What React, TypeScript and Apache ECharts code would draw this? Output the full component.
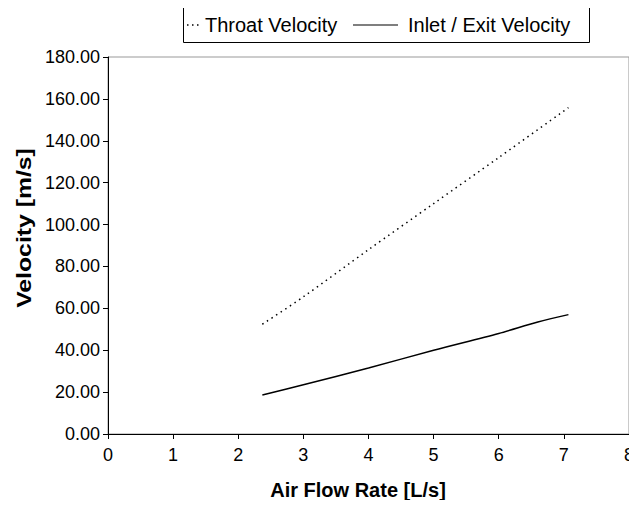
import React, { useEffect, useRef } from "react";
import * as echarts from "echarts";

const throatFlow = [2.37, 3.0, 4.0, 5.0, 6.0, 7.07];
const throatVelocity = [52.4, 65.5, 88.0, 110.0, 132.0, 155.8];
const inletFlow = [2.37, 3.0, 4.0, 5.0, 6.0, 6.6, 7.07];
const inletVelocity = [18.6, 23.5, 31.5, 40.0, 48.0, 53.5, 57.0];
const seriesNames = ["Throat Velocity", "Inlet / Exit Velocity"];
const xTitle = "Air Flow Rate [L/s]";
const yTitle = "Velocity [m/s]";

const FONT = "'Liberation Sans', Arial, sans-serif";

export default function App() {
  const ref = useRef<HTMLDivElement>(null);
  useEffect(() => {
    if (!ref.current) return;
    const chart = echarts.init(ref.current, null, { renderer: "svg" });
    chart.setOption({
      animation: false,
      backgroundColor: "#ffffff",
      textStyle: { fontFamily: FONT },
      legend: { show: false, data: seriesNames },
      graphic: [
        {
          type: "rect",
          shape: { x: 183.5, y: 7.5, width: 406, height: 35 },
          style: { fill: "#fff", stroke: "#000", lineWidth: 1 },
          z: 10,
        },
        {
          type: "line",
          shape: { x1: 187, y1: 25, x2: 202, y2: 25 },
          style: { stroke: "#000", lineWidth: 1.5, lineDash: [1.5, 3.5] },
          z: 11,
        },
        {
          type: "text",
          x: 205,
          y: 25,
          style: {
            text: seriesNames[0],
            font: "20px " + FONT,
            fill: "#000",
            verticalAlign: "middle",
          },
          z: 11,
        },
        {
          type: "line",
          shape: { x1: 353, y1: 25, x2: 398, y2: 25 },
          style: { stroke: "#000", lineWidth: 1.2 },
          z: 11,
        },
        {
          type: "text",
          x: 408,
          y: 25,
          style: {
            text: seriesNames[1],
            font: "20px " + FONT,
            fill: "#000",
            verticalAlign: "middle",
          },
          z: 11,
        },
        {
          type: "text",
          x: 358,
          y: 490,
          style: {
            text: xTitle,
            font: "bold 20px " + FONT,
            fill: "#000",
            align: "center",
            verticalAlign: "middle",
          },
        },
        {
          type: "text",
          x: 24,
          y: 228,
          rotation: Math.PI / 2,
          scaleX: 1.18,
          style: {
            text: yTitle,
            font: "bold 21px " + FONT,
            fill: "#000",
            align: "center",
            verticalAlign: "middle",
          },
        },
      ],
      grid: {
        left: 108,
        right: 4,
        top: 57,
        bottom: 74,
        show: true,
        borderColor: "#999",
        borderWidth: 1,
      },
      xAxis: {
        type: "value",
        min: 0,
        max: 8,
        interval: 1,
        axisLine: { show: true, lineStyle: { color: "#000", width: 1 } },
        axisTick: { show: true, length: 5, lineStyle: { color: "#000" } },
        axisLabel: { fontFamily: FONT, fontSize: 18, color: "#000", margin: 12 },
        splitLine: { show: false },
      },
      yAxis: {
        type: "value",
        min: 0,
        max: 180,
        interval: 20,
        axisLine: { show: true, lineStyle: { color: "#000", width: 1 } },
        axisTick: { show: true, length: 5, lineStyle: { color: "#000" } },
        axisLabel: {
          fontFamily: FONT,
          fontSize: 18,
          color: "#000",
          margin: 8,
          formatter: (v: number) => v.toFixed(2),
        },
        splitLine: { show: false },
      },
      series: [
        {
          name: seriesNames[0],
          type: "line",
          showSymbol: false,
          symbol: "none",
          smooth: 0.3,
          data: throatFlow.map((x, i) => [x, throatVelocity[i]]),
          lineStyle: { color: "#000", width: 1.5, type: [1.5, 4] },
          itemStyle: { color: "#000" },
        },
        {
          name: seriesNames[1],
          type: "line",
          showSymbol: false,
          symbol: "none",
          smooth: 0.3,
          data: inletFlow.map((x, i) => [x, inletVelocity[i]]),
          lineStyle: { color: "#000", width: 1.5, type: "solid" },
          itemStyle: { color: "#000" },
        },
      ],
    });
    return () => chart.dispose();
  }, []);
  return <div ref={ref} style={{ width: 637, height: 508, margin: -8 }} />;
}
